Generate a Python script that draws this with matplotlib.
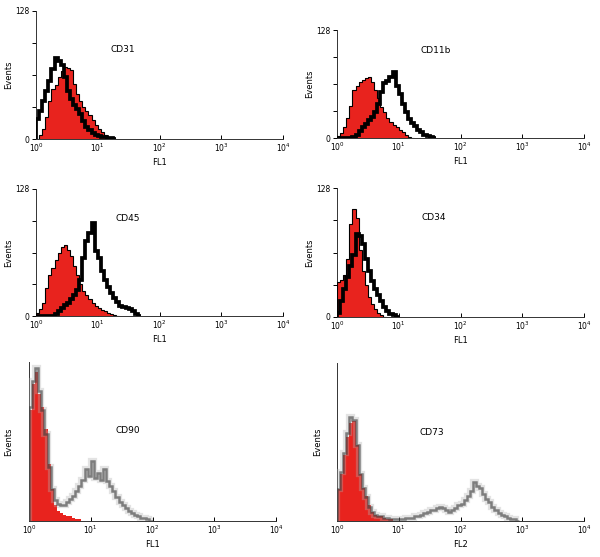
import matplotlib
matplotlib.use("Agg")
import matplotlib.pyplot as plt
import numpy as np

# histogram bin width in decades (log10 units), channels start at 10^0
BIN = 0.05

# CD31 (FL1)
cd31_ctrl = [0, 4, 10, 22, 38, 50, 54, 62, 68, 72, 71, 69, 55, 45, 38, 32, 28, 24,
             19, 14, 10, 7, 4, 2, 1, 0]
cd31_stain = [20, 28, 38, 48, 58, 70, 81, 78, 74, 62, 48, 40, 34, 30, 25, 18, 12, 9,
              6, 4, 3, 2, 2, 1, 1, 0]

# CD11b (FL1)
cd11b_ctrl = [2, 6, 13, 24, 38, 57, 62, 66, 69, 71, 72, 66, 57, 47, 37, 31, 24, 19,
              16, 13, 10, 7, 4, 1, 0]
cd11b_stain = [0, 0, 0, 0, 0, 1, 4, 8, 13, 17, 21, 25, 31, 40, 55, 65, 67, 72, 78,
               62, 52, 40, 31, 22, 18, 14, 10, 7, 4, 2, 1, 0]

# CD45 (FL1)
cd45_ctrl = [3, 7, 13, 28, 41, 48, 56, 64, 70, 72, 67, 60, 50, 41, 32, 25, 21, 17,
             13, 10, 8, 6, 5, 3, 2, 1, 0]
cd45_stain = [0, 0, 0, 0, 0, 0, 2, 5, 8, 11, 13, 17, 21, 26, 36, 58, 76, 84, 94, 66,
              58, 45, 36, 29, 23, 18, 14, 10, 9, 8, 7, 5, 2, 0]

# CD34 (FL1)
cd34_ctrl = [35, 37, 42, 58, 92, 107, 98, 66, 46, 32, 20, 13, 8, 4, 2, 0]
cd34_stain = [4, 16, 28, 40, 51, 62, 82, 80, 72, 58, 46, 36, 28, 22, 16, 10, 6, 3,
              2, 0]

# CD90 (FL1), relative scale 0-100
cd90_ctrl = [70, 86, 94, 80, 72, 58, 36, 20, 10, 6, 5, 4, 3, 3, 2, 1, 1, 0]
cd90_stain = [72, 88, 96, 82, 70, 55, 34, 20, 13, 11, 10, 10, 12, 14, 16, 19, 22,
              26, 33, 28, 38, 27, 30, 26, 33, 25, 22, 19, 15, 12, 10, 8, 6, 5, 4,
              3, 2, 2, 1, 0]

# CD73 (FL2), relative scale 0-100
cd73_ctrl = [20, 30, 42, 53, 62, 63, 48, 30, 21, 16, 10, 6, 4, 3, 3, 2, 1, 1, 0]
cd73_stain = [20, 31, 43, 56, 66, 64, 48, 30, 21, 15, 9, 6, 4, 3, 3, 2, 2, 1, 1, 1,
              1, 1, 2, 2, 2, 3, 3, 4, 5, 6, 7, 7, 8, 9, 8, 7, 6, 7, 8, 10, 11, 13,
              16, 19, 25, 22, 21, 17, 14, 12, 9, 7, 5, 4, 3, 2, 1, 1, 0]

decade_ticks = [1, 10, 100, 1000, 10000]
decade_labels = ["$10^0$", "$10^1$", "$10^2$", "$10^3$", "$10^4$"]

RED = "#e8231e"
W, H = 600, 557


def edges_for(counts):
    return 10 ** (np.arange(len(counts) + 1) * BIN)


def make_ax(fig, left, right, top, bottom):
    return fig.add_axes([left / W, 1 - bottom / H, (right - left) / W, (bottom - top) / H])


def style_ax(ax, name, name_pos, xlabel, ymax, yticks, ylab_x):
    ax.set_xscale("log")
    ax.set_xlim(1, 1e4)
    ax.set_ylim(0, ymax)
    ax.set_xticks(decade_ticks)
    ax.set_xticklabels(decade_labels)
    ax.xaxis.set_minor_locator(matplotlib.ticker.NullLocator())
    ax.tick_params(axis="x", direction="in", length=3, width=0.7, labelsize=5.5, pad=2)
    if yticks:
        ax.set_yticks([0, 32, 64, 96, 128])
        ax.set_yticklabels(["0", "", "", "", "128"])
        ax.tick_params(axis="y", direction="out", length=3, width=0.7, labelsize=5.5, pad=1.5)
    else:
        ax.set_yticks([])
    for s in ("top", "right"):
        ax.spines[s].set_visible(False)
    for s in ("left", "bottom"):
        ax.spines[s].set_linewidth(0.7)
        ax.spines[s].set_color("#333333")
    ax.set_xlabel(xlabel, fontsize=6, labelpad=3)
    ax.set_ylabel("Events", fontsize=6)
    ax.yaxis.set_label_coords(ylab_x, 0.5)
    ax.text(name_pos[0], name_pos[1], name, transform=ax.transAxes, fontsize=6.5,
            ha="center", va="center")


def solid_panel(ax, ctrl, stain):
    e = edges_for(ctrl)
    ax.stairs(ctrl, e, fill=True, color=RED, zorder=2)
    ax.stairs(ctrl, e, color="black", lw=0.8, zorder=3)
    ax.stairs(stain, edges_for(stain), color="black", lw=2.7, zorder=4)


def faded_panel(ax, ctrl, stain):
    e = edges_for(ctrl)
    ax.stairs(ctrl, e, fill=True, color=RED, zorder=2)
    es = edges_for(stain)
    ax.stairs(stain, es, color="#b0b0b0", lw=4.5, alpha=0.35, zorder=3)
    ax.stairs(stain, es, color="#3a3a3a", lw=1.8, alpha=0.6, zorder=4)


fig = plt.figure(figsize=(W / 100, H / 100), dpi=100)

ax1 = make_ax(fig, 36, 283, 11, 139)
solid_panel(ax1, cd31_ctrl, cd31_stain)
style_ax(ax1, "CD31", (0.35, 0.70), "FL1", 128, True, -0.093)

ax2 = make_ax(fig, 337, 584, 30, 138)
solid_panel(ax2, cd11b_ctrl, cd11b_stain)
style_ax(ax2, "CD11b", (0.40, 0.81), "FL1", 128, True, -0.093)

ax3 = make_ax(fig, 36, 283, 189, 316)
solid_panel(ax3, cd45_ctrl, cd45_stain)
style_ax(ax3, "CD45", (0.37, 0.77), "FL1", 128, True, -0.093)

ax4 = make_ax(fig, 337, 584, 188, 317)
solid_panel(ax4, cd34_ctrl, cd34_stain)
style_ax(ax4, "CD34", (0.39, 0.77), "FL1", 128, True, -0.093)

ax5 = make_ax(fig, 29, 276, 362, 521)
faded_panel(ax5, cd90_ctrl, cd90_stain)
style_ax(ax5, "CD90", (0.40, 0.57), "FL1", 100, False, -0.065)

ax6 = make_ax(fig, 337, 584, 363, 521)
faded_panel(ax6, cd73_ctrl, cd73_stain)
style_ax(ax6, "CD73", (0.385, 0.56), "FL2", 100, False, -0.06)

fig.savefig("out.png", dpi=100)
